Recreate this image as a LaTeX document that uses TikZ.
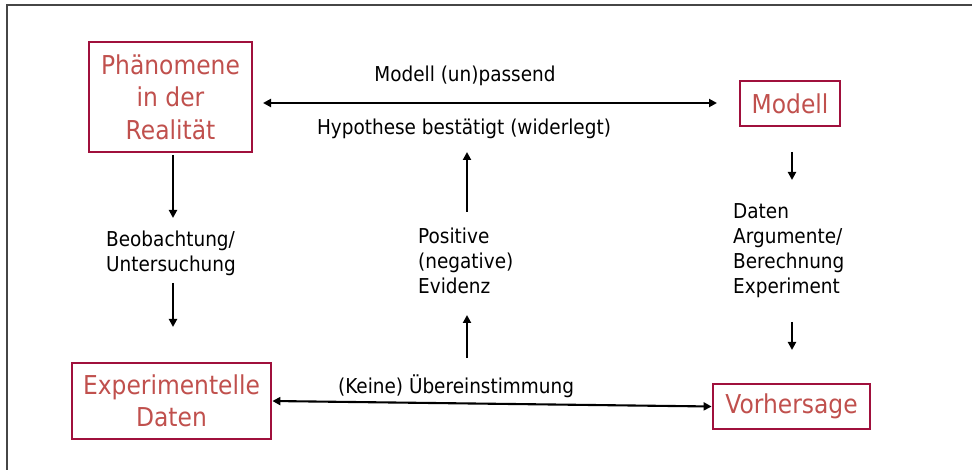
\documentclass[tikz,border=0pt]{standalone}
\usepackage{fontspec}
\setmainfont{DejaVu Sans}[FakeStretch=0.9]
\usetikzlibrary{arrows.meta}
\definecolor{boxred}{RGB}{160,16,60}
\definecolor{txtred}{RGB}{192,80,77}
\definecolor{framegray}{RGB}{70,70,70}
\tikzset{
  bx/.style={draw=boxred, line width=2.8pt, text=txtred, inner sep=0pt,
    font=\fontsize{26}{32.5}\selectfont, align=center},
  lbl/.style={text=black, inner sep=0pt, font=\fontsize{20.5}{25}\selectfont},
  arr/.style={line width=2.1pt, -{Triangle[length=8pt,width=8pt]}},
  darr/.style={line width=2.1pt, {Triangle[length=8pt,width=8pt]}-{Triangle[length=8pt,width=8pt]}},
  frm/.style={draw=framegray, line width=1.4pt}
}
\begin{document}
\begin{tikzpicture}[x=1pt,y=-1pt]
\useasboundingbox (0,0) rectangle (972,470);
\draw[frm] (7,470) -- (7,5) -- (972,5);

\node[bx, minimum width=163pt, minimum height=110pt] (phen) at (170.5,97) {Phänomene\\in der\\Realität};
\node[bx, minimum width=100pt, minimum height=45pt] (mod) at (790,103.5) {Modell};
\node[bx, minimum width=199pt, minimum height=76pt] (exp) at (171.5,401) {Experimentelle\\Daten};
\node[bx, minimum width=157pt, minimum height=45pt] (vor) at (791.5,406.5) {Vorhersage};

\node[lbl, anchor=base] (l1) at (465,82) {Modell (un)passend};
\node[lbl, anchor=base] (l2) at (464,135) {Hypothese bestätigt (widerlegt)};
\node[lbl, anchor=base] (l3) at (456,393) {(Keine) Übereinstimmung};
\node[lbl, anchor=west, align=left] (beo) at (106,253) {Beobachtung/\\Untersuchung};
\node[lbl, anchor=west, align=left] (evi) at (418,261) {Positive\\(negative)\\Evidenz};
\node[lbl, anchor=west, align=left] (dat) at (733,251) {Daten\\Argumente/\\Berechnung\\Experiment};

\coordinate (ta) at (263,103);
\coordinate (tb) at (717,103);
\draw[darr] (ta) -- (tb);
\draw[darr] (exp.east) -- (vor.west);

\coordinate (a1) at (173,155); \coordinate (a2) at (173,218);
\coordinate (a3) at (173,283); \coordinate (a4) at (173,327);
\draw[arr] (a1) -- (a2);
\draw[arr] (a3) -- (a4);

\coordinate (m1) at (467,212); \coordinate (m2) at (467,152);
\coordinate (m3) at (467,358); \coordinate (m4) at (467,315);
\draw[arr] (m1) -- (m2);
\draw[arr] (m3) -- (m4);

\coordinate (r1) at (792,152); \coordinate (r2) at (792,180);
\coordinate (r3) at (792,322); \coordinate (r4) at (792,350);
\draw[arr] (r1) -- (r2);
\draw[arr] (r3) -- (r4);
\end{tikzpicture}
\end{document}
